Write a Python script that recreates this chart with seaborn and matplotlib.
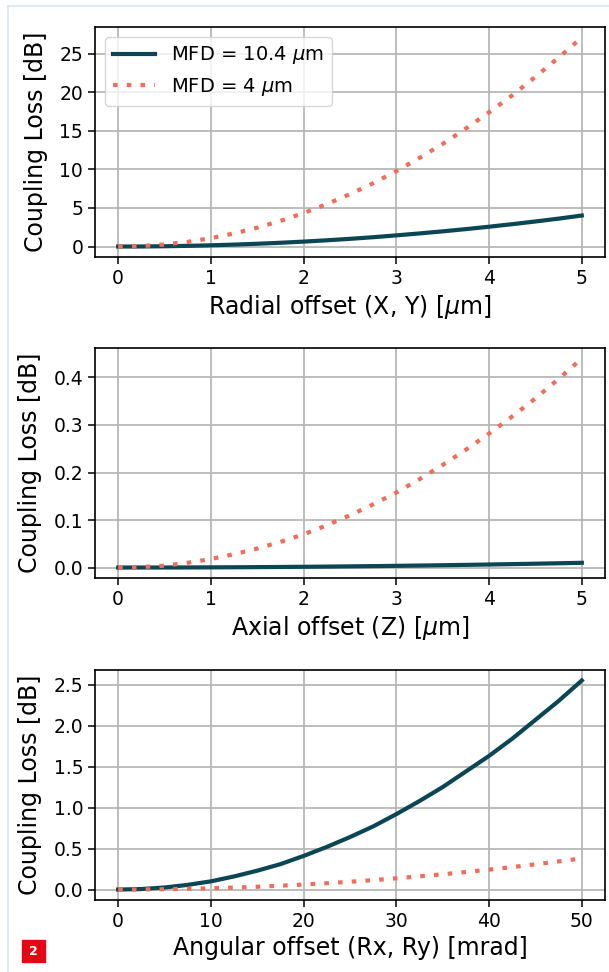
import numpy as np
import pandas as pd
import seaborn as sns
import matplotlib.pyplot as plt
from matplotlib.lines import Line2D
from matplotlib.patches import Rectangle

# Values
radial_x = [0, 0.25, 0.5, 0.75, 1, 1.25, 1.5, 1.75, 2, 2.25, 2.5,
            2.75, 3, 3.25, 3.5, 3.75, 4, 4.25, 4.5, 4.75, 5]
radial_big = [0, 0.01, 0.04, 0.09, 0.16, 0.25, 0.36, 0.49, 0.64, 0.81, 1.0,
              1.21, 1.45, 1.70, 1.97, 2.26, 2.57, 2.90, 3.25, 3.62, 4.02]
radial_small = [0, 0.07, 0.27, 0.61, 1.09, 1.70, 2.44, 3.33, 4.34, 5.50, 6.79,
                8.21, 9.77, 11.5, 13.3, 15.3, 17.4, 19.6, 22.0, 24.5, 27.1]

axial_x = radial_x
axial_big = [0, 0.00003, 0.0001, 0.0002, 0.0004, 0.0006, 0.0009, 0.0012, 0.0016, 0.002, 0.0025,
             0.003, 0.0036, 0.0042, 0.0049, 0.0056, 0.0064, 0.0072, 0.0081, 0.009, 0.01]
axial_small = [0, 0.001, 0.004, 0.01, 0.018, 0.028, 0.04, 0.054, 0.07, 0.089, 0.11,
               0.133, 0.158, 0.186, 0.216, 0.248, 0.282, 0.318, 0.356, 0.397, 0.44]

angular_x = [0, 2.5, 5, 7.5, 10, 12.5, 15, 17.5, 20, 22.5, 25,
             27.5, 30, 32.5, 35, 37.5, 40, 42.5, 45, 47.5, 50]
angular_big = [0, 0.006, 0.025, 0.057, 0.10, 0.16, 0.23, 0.31, 0.41, 0.52, 0.64,
               0.77, 0.92, 1.08, 1.25, 1.44, 1.63, 1.84, 2.07, 2.30, 2.55]
angular_small = [0, 0.001, 0.004, 0.009, 0.015, 0.024, 0.034, 0.047, 0.061, 0.077, 0.095,
                 0.115, 0.137, 0.161, 0.186, 0.214, 0.243, 0.274, 0.308, 0.343, 0.38]

labels = ["MFD = 10.4 $\\mu$m", "MFD = 4 $\\mu$m"]
xlabels = ["Radial offset (X, Y) [$\\mu$m]", "Axial offset (Z) [$\\mu$m]",
           "Angular offset (Rx, Ry) [mrad]"]

teal = "#0b4654"
coral = "#f26c5a"

panels = [
    (radial_x, radial_big, radial_small, [0, 5, 10, 15, 20, 25], "{:g}"),
    (axial_x, axial_big, axial_small, [0, 0.1, 0.2, 0.3, 0.4], "{:.1f}"),
    (angular_x, angular_big, angular_small, [0, 0.5, 1, 1.5, 2, 2.5], "{:.1f}"),
]

fig = plt.figure(figsize=(6.09, 9.72), dpi=100)

tops = [27, 348, 670]
h = 230
for i, (xs, big, small, yt, fmt) in enumerate(panels):
    ax = fig.add_axes([95 / 609, 1 - (tops[i] + h) / 972, 510 / 609, h / 972])
    df = pd.DataFrame({"x": xs, "big": big, "small": small})
    sns.lineplot(data=df, x="x", y="big", ax=ax, color=teal, lw=3, label=labels[0])
    sns.lineplot(data=df, x="x", y="small", ax=ax, color=coral, lw=3,
                 dashes=False, label=labels[1])
    ax.lines[-1].set_dashes((1.1, 2.2))
    ax.set_yticks(yt)
    ax.set_yticklabels([fmt.format(v) for v in yt])
    ax.grid(True, color="#b8b8b8", lw=1.3)
    ax.set_axisbelow(True)
    ax.tick_params(labelsize=13.5, length=5, width=1.1)
    for s in ax.spines.values():
        s.set_linewidth(1.2)
    ax.set_xlabel(xlabels[i], fontsize=17)
    ax.set_ylabel("Coupling Loss [dB]", fontsize=17, labelpad=8)
    if i == 0:
        leg = ax.legend(loc="upper left", fontsize=14, handlelength=2.2)
        leg.get_lines()[1].set_dashes((1.1, 2.2))
    else:
        ax.get_legend().remove()

# page frame and figure badge
fig.add_artist(Line2D([8 / 609, 8 / 609], [0, 1 - 6 / 972], color="#d5e5f5", lw=1.2))
fig.add_artist(Line2D([8 / 609, 1], [1 - 6 / 972, 1 - 6 / 972], color="#d5e5f5", lw=1.2))
fig.add_artist(Rectangle((22 / 609, 1 - 962 / 972), 23 / 609, 22 / 972,
                         transform=fig.transFigure, color="#e30613"))
fig.text(33.5 / 609, 1 - 951 / 972, "2", color="white", fontsize=9,
         fontweight="bold", ha="center", va="center")

fig.savefig("out.png", dpi=100)
